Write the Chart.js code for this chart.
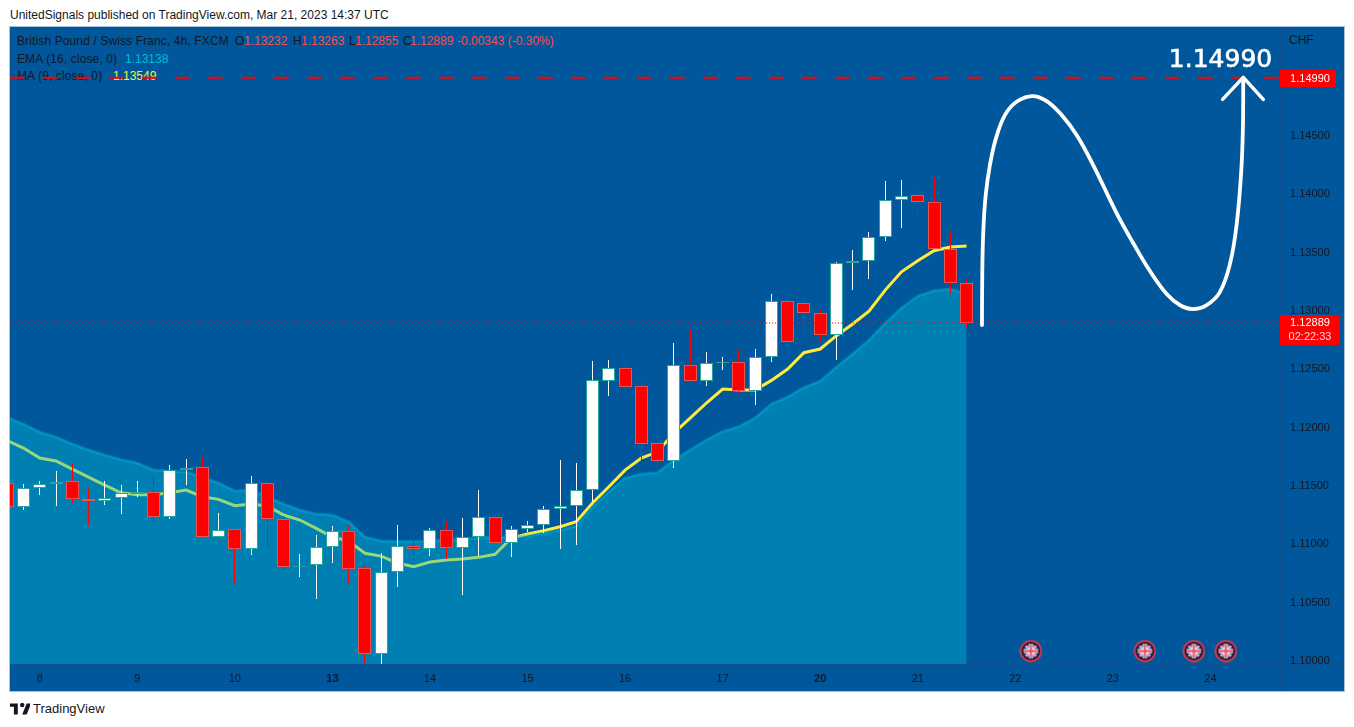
<!DOCTYPE html>
<html>
<head>
<meta charset="utf-8">
<title>GBP/CHF</title>
<script src="https://cdn.jsdelivr.net/npm/chart.js@4/dist/chart.umd.js"></script>
<style>
html, body { margin: 0; padding: 0; background: #fff; }
body { width: 1354px; height: 727px; position: relative; overflow: hidden; font-family: "Liberation Sans", Arial, sans-serif; color: #131722; }
#title { position: absolute; left: 10px; top: 8px; font-size: 12px; line-height: 15px; white-space: nowrap; }
#box { position: absolute; left: 10px; top: 27px; width: 1334px; height: 664px; background: #00579b; outline: 1px solid #a8c3da; overflow: hidden; }
#box canvas { position: absolute; left: -2px; top: -2px; }
.leg { position: absolute; font-size: 12px; line-height: 15px; white-space: nowrap; }
.wide { letter-spacing: 0.12px; }
.val { color: #f44f4f; }
#foot { position: absolute; left: 10px; top: 703px; height: 12px; }
#footText { position: absolute; left: 33px; top: 701px; font-size: 13px; line-height: 16px; }
</style>
</head>
<body>
<div id="title">UnitedSignals published on TradingView.com, Mar 21, 2023 14:37 UTC</div>
<div id="box">
  <div class="leg wide" style="left:7px;top:7px">British Pound / Swiss Franc, 4h, FXCM</div>
  <div class="leg" style="left:225px;top:7px">O</div><div class="leg val" style="left:234px;top:7px">1.13232</div>
  <div class="leg" style="left:283px;top:7px">H</div><div class="leg val" style="left:291px;top:7px">1.13263</div>
  <div class="leg" style="left:339px;top:7px">L</div><div class="leg val" style="left:345px;top:7px">1.12855</div>
  <div class="leg" style="left:393px;top:7px">C</div><div class="leg val" style="left:400px;top:7px">1.12889</div>
  <div class="leg val" style="left:447px;top:7px">-0.00343 (-0.30%)</div>
  <div class="leg wide" style="left:7px;top:25px">EMA (16, close, 0)</div><div class="leg" style="left:115px;top:25px;color:#00bcd4">1.13138</div>
  <div class="leg wide" style="left:7px;top:42px">MA (9, close, 0)</div><div class="leg" style="left:103px;top:42px;color:#ffeb3b">1.13549</div>
  <div class="leg" style="left:1279px;top:6px">CHF</div>
  <canvas id="chart" width="1336" height="666"></canvas>
</div>
<svg id="foot" width="20" height="11" viewBox="0 0 36 20"><path d="M14 0H0v6h7v14h7zM30 20h-8l8-20h8z M18 3a4 4 0 1 0 8 0a4 4 0 1 0-8 0z" fill="#131722"/></svg>
<div id="footText">TradingView</div>
<script>
// 4h candles, oldest to newest
const opens = [1.11514,1.11309,1.11472,1.11506,1.11532,1.11377,1.11360,1.11386,1.11420,1.11437,1.11228,1.11626,1.11652,1.11052,1.11120,1.10949,1.11514,1.11206,1.10795,1.10812,1.10966,1.11103,1.10786,1.10049,1.10752,1.10980,1.10949,1.11112,1.10963,1.11057,1.11223,1.11005,1.11120,1.11154,1.11292,1.11317,1.11454,1.12394,1.12500,1.12346,1.11857,1.11708,1.12526,1.12394,1.12543,1.12552,1.12303,1.12594,1.13074,1.13057,1.12972,1.12783,1.13400,1.13417,1.13623,1.13940,1.13983,1.13923,1.13520,1.13232];
const highs = [1.11560,1.11508,1.11534,1.11620,1.11680,1.11474,1.11534,1.11500,1.11534,1.11577,1.11671,1.11723,1.11734,1.11260,1.11123,1.11577,1.11526,1.11234,1.10909,1.11071,1.11149,1.11149,1.10812,1.10915,1.11157,1.11114,1.11129,1.11185,1.11217,1.11457,1.11251,1.11149,1.11191,1.11320,1.11714,1.11688,1.12563,1.12571,1.12557,1.12372,1.12085,1.12714,1.12834,1.12640,1.12597,1.12663,1.12666,1.13137,1.13154,1.13103,1.13000,1.13411,1.13514,1.13668,1.14105,1.14114,1.14034,1.14131,1.13674,1.13263];
const lows = [1.11270,1.11286,1.11414,1.11320,1.11348,1.11157,1.11329,1.11251,1.11397,1.11177,1.11209,1.11500,1.11052,1.11052,1.10654,1.10900,1.10980,1.10763,1.10714,1.10523,1.10831,1.10657,1.09960,1.09960,1.10628,1.10857,1.10891,1.10866,1.10557,1.10891,1.11005,1.10883,1.11097,1.11089,1.10954,1.10986,1.11357,1.12263,1.12286,1.11714,1.11605,1.11648,1.12394,1.12348,1.12486,1.12286,1.12186,1.12557,1.12600,1.12771,1.12732,1.12571,1.13171,1.13266,1.13591,1.13703,1.13817,1.13520,1.13148,1.12855];
const closes = [1.11309,1.11472,1.11506,1.11528,1.11377,1.11360,1.11386,1.11429,1.11437,1.11228,1.11626,1.11648,1.11052,1.11117,1.10949,1.11514,1.11206,1.10795,1.10808,1.10966,1.11103,1.10783,1.10049,1.10752,1.10980,1.10949,1.11112,1.10963,1.11057,1.11223,1.11005,1.11120,1.11154,1.11292,1.11317,1.11454,1.12397,1.12500,1.12342,1.11854,1.11708,1.12526,1.12394,1.12543,1.12552,1.12303,1.12594,1.13074,1.12723,1.12972,1.12783,1.13400,1.13417,1.13623,1.13940,1.13980,1.13923,1.13520,1.13229,1.12889];

const maValues = [1.11881,1.11817,1.11731,1.11706,1.11637,1.11568,1.11500,1.11434,1.11417,1.11417,1.11434,1.11457,1.11400,1.11377,1.11323,1.11337,1.11320,1.11243,1.11200,1.11129,1.11054,1.11020,1.10915,1.10891,1.10831,1.10800,1.10840,1.10857,1.10866,1.10880,1.10906,1.11046,1.11080,1.11108,1.11143,1.11185,1.11346,1.11485,1.11628,1.11731,1.11785,1.11946,1.12074,1.12203,1.12323,1.12314,1.12314,1.12397,1.12494,1.12634,1.12666,1.12780,1.12880,1.12991,1.13171,1.13328,1.13422,1.13508,1.13540,1.13549];
const emaValues = [1.12078,1.12023,1.11954,1.11911,1.11851,1.11800,1.11757,1.11718,1.11688,1.11628,1.11620,1.11611,1.11568,1.11517,1.11449,1.11457,1.11397,1.11337,1.11286,1.11251,1.11243,1.11185,1.11054,1.11020,1.11017,1.11017,1.11020,1.11029,1.11037,1.11046,1.11054,1.11054,1.11063,1.11089,1.11114,1.11149,1.11314,1.11442,1.11560,1.11594,1.11605,1.11714,1.11800,1.11886,1.11957,1.12000,1.12074,1.12194,1.12254,1.12336,1.12391,1.12511,1.12623,1.12743,1.12888,1.13017,1.13120,1.13165,1.13180,1.13138];

// hand drawn forecast, x in candle positions
const curveBars = [59.95,59.97,60.03,60.18,60.44,60.81,61.36,62.08,63.04,63.93,64.85,65.77,66.79,68.23,69.25,70.28,71.31,72.12,72.90,73.77,74.58,75.20,75.61,75.90,76.00,76.02];
const curvePrices = [1.12871,1.13328,1.13671,1.13986,1.14243,1.14471,1.14671,1.14785,1.14834,1.14791,1.14671,1.14500,1.14243,1.13831,1.13574,1.13334,1.13137,1.13043,1.13008,1.13043,1.13154,1.13394,1.13728,1.14200,1.14571,1.14988];
const arrowBars = [74.75,76.02,77.25];
const arrowPrices = [1.14806,1.14994,1.14806];

const targetPrice = 1.14990;
const lastPrice = 1.12889;
const countdown = '02:22:33';
const eventBars = [62.96,69.97,72.98,74.95];
const eventPrice = 1.10077;

const priceTicks = [1.10,1.105,1.11,1.115,1.12,1.125,1.13,1.135,1.14,1.145];
const dayTicks = [2,8,14,20,26,32,38,44,50,56,62,68,74];
const dayLabels = ['8','9','10','13','14','15','16','17','20','21','22','23','24'];
const boldDays = ['13','20'];

const xMin = 0.17, xMax = 78.28;
const yMin = 1.09966, yMax = 1.15426;

const byIndex = (arr) => arr.map((y, i) => ({ x: i, y }));
const zip = (xs, ys) => xs.map((x, i) => ({ x, y: ys[i] }));
const isUp = (i) => closes[i] >= opens[i];

// UK flag used as the economic event marker
function flagIcon() {
    const c = document.createElement('canvas');
    c.width = c.height = 23;
    const g = c.getContext('2d');
    const m = 11.5;
    g.beginPath(); g.arc(m, m, 10.2, 0, Math.PI * 2); g.fillStyle = '#0f1626'; g.fill();
    g.lineWidth = 1.8; g.strokeStyle = '#e53950'; g.stroke();
    g.save();
    g.beginPath(); g.arc(m, m, 7.4, 0, Math.PI * 2); g.clip();
    g.fillStyle = '#2a46a0'; g.fillRect(0, 0, 23, 23);
    const cross = (w, col) => {
        g.lineWidth = w; g.strokeStyle = col;
        g.beginPath(); g.moveTo(m - 9, m - 9); g.lineTo(m + 9, m + 9); g.moveTo(m + 9, m - 9); g.lineTo(m - 9, m + 9); g.stroke();
    };
    const plus = (w, col) => {
        g.lineWidth = w; g.strokeStyle = col;
        g.beginPath(); g.moveTo(m, m - 9); g.lineTo(m, m + 9); g.moveTo(m - 9, m); g.lineTo(m + 9, m); g.stroke();
    };
    cross(2, '#fff'); cross(0.8, '#e8455a'); plus(4, '#fff'); plus(2, '#e8455a');
    g.restore();
    return c;
}

// candles on whole pixels, like the original chart
const snapBars = {
    id: 'snapBars',
    afterDatasetsUpdate(chart) {
        chart.getSortedVisibleDatasetMetas().forEach((meta) => {
            if (meta.type !== 'bar') return;
            meta.data.forEach((el) => {
                el.x = Math.floor(el.x) + 0.5;
                el.y = Math.round(el.y);
                el.base = Math.round(el.base);
            });
        });
    },
};

// 1.10000 is cut off by the time axis, plus the pane separators
const paneLines = {
    id: 'paneLines',
    beforeDatasetsDraw(chart) {
        const { ctx, chartArea: a, width, height } = chart;
        ctx.save();
        ctx.fillStyle = '#00579b';
        ctx.fillRect(a.right + 1, a.bottom, width - a.right, height - a.bottom);
        ctx.strokeStyle = '#0d4f8c';
        ctx.lineWidth = 1;
        ctx.beginPath();
        ctx.moveTo(0, a.bottom + 0.5); ctx.lineTo(width, a.bottom + 0.5);
        ctx.moveTo(a.right + 0.5, 0); ctx.lineTo(a.right + 0.5, height);
        ctx.stroke();
        ctx.restore();
    },
};

const priceLabels = {
    id: 'priceLabels',
    afterDraw(chart) {
        const { ctx, chartArea: a, scales } = chart;
        const yTarget = scales.y.getPixelForValue(targetPrice);
        const yLast = scales.y.getPixelForValue(lastPrice);
        ctx.save();
        ctx.fillStyle = '#ff0000';
        ctx.beginPath(); ctx.roundRect(a.right, Math.round(yTarget) - 8, 56, 17, [0, 2, 2, 0]); ctx.fill();
        ctx.beginPath(); ctx.roundRect(a.right, Math.round(yLast) - 8, 60, 30, [0, 2, 2, 0]); ctx.fill();
        ctx.font = '11px "Liberation Sans", Arial, sans-serif';
        ctx.textBaseline = 'middle';
        ctx.textAlign = 'center';
        ctx.fillStyle = '#fff';
        ctx.fillText(targetPrice.toFixed(5), a.right + 30, yTarget + 1);
        ctx.fillText(lastPrice.toFixed(5), a.right + 30, yLast);
        ctx.fillStyle = '#ffd4d4';
        ctx.fillText(countdown, a.right + 30, yLast + 14);
        // big target label drawn on the chart
        ctx.font = '25px "DejaVu Sans", sans-serif';
        ctx.textAlign = 'right';
        ctx.fillStyle = '#fff';
        ctx.strokeStyle = '#fff';
        ctx.lineWidth = 0.6;
        const tx = scales.x.getPixelForValue(77.8);
        ctx.fillText(targetPrice.toFixed(5), tx, yTarget - 17);
        ctx.strokeText(targetPrice.toFixed(5), tx, yTarget - 17);
        ctx.restore();
    },
};

new Chart(document.getElementById('chart'), {
    type: 'bar',
    data: {
        datasets: [
            { type: 'line', order: 9, data: byIndex(maValues), borderColor: '#ffeb3b', borderWidth: 3, pointRadius: 0, tension: 0, clip: 0 },
            { type: 'line', order: 8, data: byIndex(emaValues), borderColor: 'rgba(0,188,212,0.4)', backgroundColor: 'rgba(0,188,212,0.4)', borderWidth: 3, pointRadius: 0, tension: 0, fill: 'start', clip: 0 },
            {
                order: 7, data: lows.map((p, i) => ({ x: i, y: [p, highs[i]] })),
                barThickness: 1, grouped: false, borderWidth: 0, inflateAmount: 0,
                backgroundColor: lows.map((_, i) => (isUp(i) ? '#ffffff' : '#ff0000')), clip: 0,
            },
            {
                order: 6, data: opens.map((o, i) => ({ x: i, y: [o, closes[i]] })),
                barThickness: 13, grouped: false, borderWidth: 1, borderSkipped: false, inflateAmount: 0,
                backgroundColor: opens.map((_, i) => (isUp(i) ? '#ffffff' : '#ff0000')),
                borderColor: opens.map((_, i) => (isUp(i) ? '#26a69a' : '#ef5350')), clip: 0,
            },
            { type: 'line', order: 5, data: [{ x: xMin, y: lastPrice }, { x: xMax, y: lastPrice }], borderColor: '#ff0000', borderWidth: 1, borderDash: [1, 2], pointRadius: 0, clip: 0 },
            { type: 'line', order: 4, data: zip(eventBars, eventBars.map(() => eventPrice)), showLine: false, pointStyle: flagIcon(), pointRadius: 1, pointHoverRadius: 1, clip: 0 },
            { type: 'line', order: 3, data: [{ x: xMin, y: targetPrice }, { x: xMax, y: targetPrice }], borderColor: '#ff0000', borderWidth: 2, borderDash: [14.5, 18.5], pointRadius: 0, clip: 0 },
            { type: 'line', order: 2, data: zip(curveBars, curvePrices), borderColor: '#ffffff', borderWidth: 3.8, borderCapStyle: 'round', pointRadius: 0, tension: 0.4, clip: 0 },
            { type: 'line', order: 1, data: zip(arrowBars, arrowPrices), borderColor: '#ffffff', borderWidth: 3.5, borderCapStyle: 'round', borderJoinStyle: 'round', pointRadius: 0, tension: 0, clip: 0 },
        ],
    },
    options: {
        responsive: false,
        animation: false,
        events: [],
        layout: { padding: 0 },
        plugins: { legend: { display: false }, tooltip: { enabled: false } },
        scales: {
            x: {
                type: 'linear', min: xMin, max: xMax, offset: false,
                grid: { display: false }, border: { display: false },
                afterBuildTicks: (axis) => { axis.ticks = dayTicks.map((value) => ({ value })); },
                afterFit: (axis) => { axis.height = 27; axis.paddingLeft = 0; axis.paddingRight = 0; },
                ticks: {
                    autoSkip: false, maxRotation: 0, padding: 0, color: '#131722',
                    font: (c) => ({ family: '"Liberation Sans", Arial, sans-serif', size: 11, weight: c.tick && boldDays.includes(dayLabels[dayTicks.indexOf(c.tick.value)]) ? 'bold' : 'normal' }),
                    callback: (v, i) => dayLabels[i],
                },
            },
            y: {
                type: 'linear', position: 'right', min: yMin, max: yMax,
                grid: { display: false }, border: { display: false },
                afterBuildTicks: (axis) => { axis.ticks = priceTicks.map((value) => ({ value })); },
                afterFit: (axis) => { axis.width = 64; axis.paddingTop = 0; axis.paddingBottom = 0; },
                ticks: {
                    autoSkip: false, padding: 2, labelOffset: 1, color: '#131722',
                    font: { family: '"Liberation Sans", Arial, sans-serif', size: 11 },
                    callback: (v) => v.toFixed(5),
                },
            },
        },
    },
    plugins: [snapBars, paneLines, priceLabels],
});
</script>
</body>
</html>
